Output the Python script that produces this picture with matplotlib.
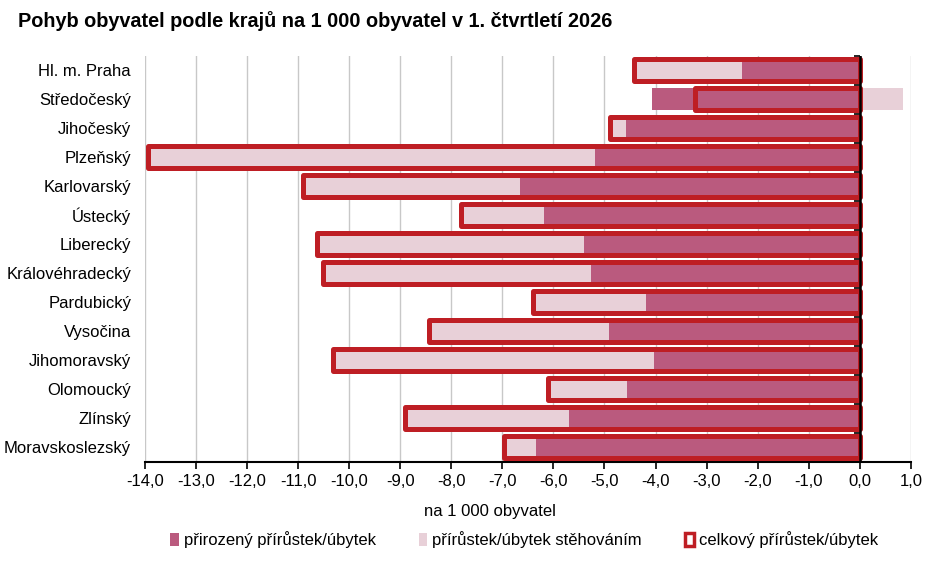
import numpy as np
import matplotlib
matplotlib.use("Agg")
from matplotlib import pyplot as plt
from matplotlib.patches import Patch

plt.rcParams['font.family'] = ['Liberation Sans', 'DejaVu Sans']

# Data (per 1 000 inhabitants)
regions = ["Hl. m. Praha", "Středočeský", "Jihočeský", "Plzeňský", "Karlovarský",
           "Ústecký", "Liberecký", "Královéhradecký", "Pardubický", "Vysočina",
           "Jihomoravský", "Olomoucký", "Zlínský", "Moravskoslezský"]
natural = [-2.30, -4.07, -4.58, -5.19, -6.65, -6.18, -5.41, -5.27, -4.18, -4.92,
           -4.04, -4.55, -5.70, -6.34]
total = [-4.43, -3.22, -4.89, -13.94, -10.90, -7.82, -10.64, -10.51, -6.41, -8.44,
         -10.32, -6.11, -8.91, -6.96]
migration = [t - n for t, n in zip(total, natural)]

c_nat = "#BA5A7E"
c_mig = "#E8D0D8"
c_tot = "#BE1E24"

fig = plt.figure(figsize=(9.39, 5.61), dpi=100)
ax = fig.add_axes([0.1544, 0.177, 0.8156, 0.724])

y = np.arange(len(regions))
mig_left = [n if m < 0 else 0 for n, m in zip(natural, migration)]

ax.barh(y, natural, height=0.78, color=c_nat, zorder=2)
ax.barh(y, migration, left=mig_left, height=0.78, color=c_mig, zorder=2)
ax.barh(y, total, height=0.76, facecolor="none", edgecolor=c_tot,
        linewidth=3.6, joinstyle="round", zorder=3)

ax.set_ylim(len(regions) - 0.5, -0.5)
ax.set_xlim(-14, 1)
ax.set_xticks(np.arange(-14, 2, 1))
ax.set_xticklabels([f"{v:.1f}".replace(".", ",") for v in np.arange(-14, 2, 1)],
                   fontsize=12)
ax.set_yticks(y)
ax.set_yticklabels(regions, fontsize=12)
ax.tick_params(axis="y", length=0, pad=10)
ax.tick_params(axis="x", length=5, width=1.2, color="black", pad=4)

ax.grid(axis="x", color="#C8C8C8", linewidth=1, zorder=0)
ax.set_axisbelow(True)
for s in ["top", "right", "left"]:
    ax.spines[s].set_visible(False)
ax.spines["bottom"].set_linewidth(1.5)

# vertical axis line at zero with category tick marks
ax.axvline(0, color="black", linewidth=1.8, zorder=4)
ax.plot(np.zeros(len(regions) + 1), np.arange(len(regions) + 1) - 0.5,
        linestyle="none", marker=0, markersize=4, markeredgewidth=1.2,
        color="black", zorder=4, clip_on=False)

ax.set_xlabel("na 1 000 obyvatel", fontsize=12)
ax.xaxis.set_label_coords(0.45, -0.105)

fig.text(0.019, 0.962, "Pohyb obyvatel podle krajů na 1 000 obyvatel v 1. čtvrtletí 2026",
         fontsize=14.3, fontweight="bold", va="center")

handles = [Patch(facecolor=c_nat, edgecolor="none"),
           Patch(facecolor=c_mig, edgecolor="none"),
           Patch(facecolor="white", edgecolor=c_tot, linewidth=2.5)]
labels = ["přirozený přírůstek/úbytek", "přírůstek/úbytek stěhováním",
          "celkový přírůstek/úbytek"]
fig.legend(handles, labels, loc="center", bbox_to_anchor=(0.558, 0.038), ncol=3,
           frameon=False, fontsize=12, handlelength=0.5, handleheight=0.8,
           handletextpad=0.3, columnspacing=2.6)

fig.savefig("out.png", dpi=100)
